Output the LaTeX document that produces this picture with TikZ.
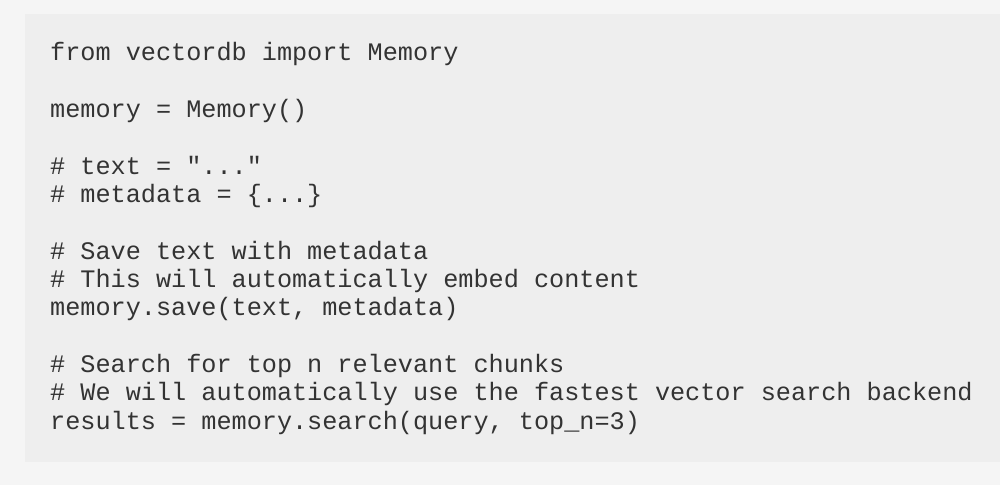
\documentclass[tikz,border=0pt]{standalone}
\usepackage{fontspec}
\setmonofont{Liberation Mono}
\definecolor{outerbg}{HTML}{F5F5F5}
\definecolor{innerbg}{HTML}{EEEEEE}
\definecolor{codecol}{HTML}{333333}
\begin{document}
\begin{tikzpicture}[x=1pt,y=-1pt,
  codeline/.style={anchor=base west,inner sep=0pt,text=codecol,font=\fontsize{25.2}{28}\ttfamily}]
\useasboundingbox (0,0) rectangle (1000,485);
\fill[outerbg] (0,0) rectangle (1000,485);
\fill[innerbg] (25,14) rectangle (1000,462);
\node[codeline] (l1) at (50,60) {from vectordb import Memory};
\node[codeline] (l2) at (50,117) {memory = Memory()};
\node[codeline] (l3) at (50,174) {\# text = "..."};
\node[codeline] (l4) at (50,202) {\# metadata = \{...\}};
\node[codeline] (l5) at (50,259) {\# Save text with metadata};
\node[codeline] (l6) at (50,287) {\# This will automatically embed content};
\node[codeline] (l7) at (50,315) {memory.save(text, metadata)};
\node[codeline] (l8) at (50,372) {\# Search for top n relevant chunks};
\node[codeline] (l9) at (50,400) {\# We will automatically use the fastest vector search backend};
\node[codeline] (l10) at (50,429) {results = memory.search(query, top\_n=3)};
\end{tikzpicture}
\end{document}
